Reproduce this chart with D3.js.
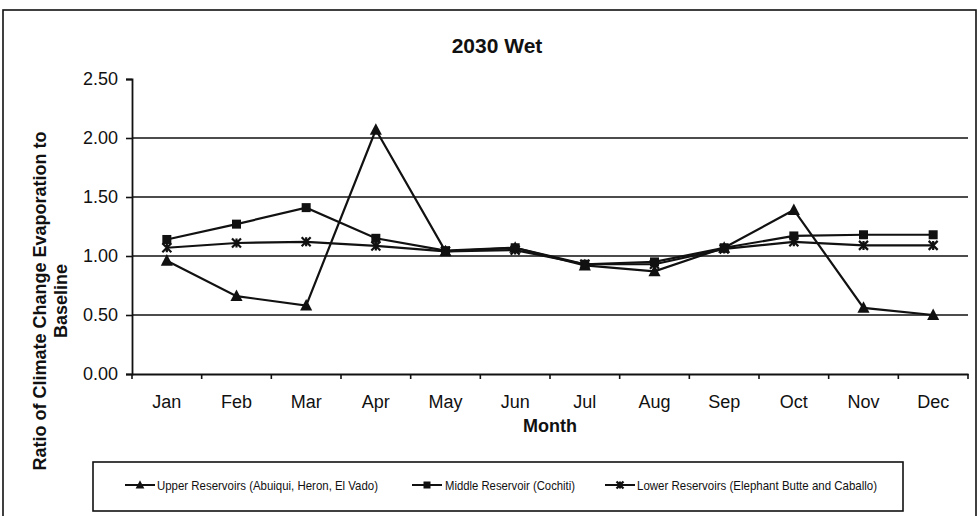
<!DOCTYPE html>
<html><head><meta charset="utf-8">
<script src="https://cdn.jsdelivr.net/npm/d3@7"></script>
<style>body{margin:0;background:#fff}svg{display:block}</style>
</head><body>
<svg id="c" width="977" height="516"></svg>
<script>
const months = ["Jan","Feb","Mar","Apr","May","Jun","Jul","Aug","Sep","Oct","Nov","Dec"];
const upper  = [0.96,0.66,0.58,2.07,1.04,1.07,0.92,0.87,1.07,1.39,0.56,0.50];
const middle = [1.14,1.27,1.41,1.15,1.045,1.07,0.93,0.95,1.07,1.17,1.18,1.18];
const lower  = [1.07,1.11,1.12,1.085,1.04,1.05,0.93,0.93,1.06,1.12,1.09,1.09];
const yTicks = [0,0.5,1.0,1.5,2.0,2.5];
const gridVals = [0.5,1.0,1.5,2.0];
const seriesNames = ["Upper  Reservoirs (Abuiqui, Heron, El Vado)","Middle Reservoir (Cochiti)","Lower Reservoirs (Elephant Butte and Caballo)"];
const title = "2030 Wet";
const xTitle = "Month";
const yTitle = ["Ratio of Climate Change Evaporation to","Baseline"];

const svg = d3.select("#c");
const FONT = "Liberation Sans, Arial, sans-serif";
const L = 132, R = 968, T = 79, B = 374;

svg.append("rect").attr("x",3).attr("y",10).attr("width",973).attr("height",512)
  .attr("fill","none").attr("stroke","#111").attr("stroke-width",1.6);

const x = d3.scaleBand().domain(months).range([L,R]);
const y = d3.scaleLinear().domain([0,2.5]).range([B,T]);

// gridlines
svg.append("g").selectAll("line").data(gridVals).join("line")
  .attr("x1",L).attr("x2",R).attr("y1",d=>y(d)).attr("y2",d=>y(d))
  .attr("stroke","#111").attr("stroke-width",1.6);

// axes
const yAxis = svg.append("g").attr("transform",`translate(${L},0)`)
  .call(d3.axisLeft(y).tickValues(yTicks).tickFormat(d3.format(".2f")).tickSize(6).tickPadding(8));
const xAxis = svg.append("g").attr("transform",`translate(0,${B})`)
  .call(d3.axisBottom(x).tickSize(0).tickPadding(21));
// x ticks at band boundaries
svg.append("g").selectAll("line").data(months.concat(["_end"])).join("line")
  .attr("x1",(d,i)=>L+i*x.step()).attr("x2",(d,i)=>L+i*x.step())
  .attr("y1",B).attr("y2",B+5).attr("stroke","#111").attr("stroke-width",1.6);
[yAxis,xAxis].forEach(g=>{
  g.selectAll("path.domain").attr("stroke","#111").attr("stroke-width",1.8);
  g.selectAll(".tick line").attr("stroke","#111").attr("stroke-width",1.6);
  g.selectAll("text").attr("font-family",FONT).attr("font-size",18).attr("fill","#111");
});

// titles
svg.append("text").attr("x",497).attr("y",53).attr("text-anchor","middle")
  .attr("font-family",FONT).attr("font-weight","bold").attr("font-size",21).attr("fill","#111").text(title);
svg.append("text").attr("x",550).attr("y",432).attr("text-anchor","middle")
  .attr("font-family",FONT).attr("font-weight","bold").attr("font-size",18).attr("fill","#111").text(xTitle);
const yt = svg.append("text").attr("transform","translate(46,301) rotate(-90)").attr("text-anchor","middle")
  .attr("font-family",FONT).attr("font-weight","bold").attr("font-size",18).attr("fill","#111");
yt.append("tspan").attr("x",0).attr("dy",0).text(yTitle[0]);
yt.append("tspan").attr("x",0).attr("dy",21).text(yTitle[1]);

// markers
function marker(g, type, cx, cy, s){
  if(type==="tri"){
    g.append("path").attr("d",`M${cx},${cy-s*0.6}L${cx+s*0.55},${cy+s*0.45}L${cx-s*0.55},${cy+s*0.45}Z`).attr("fill","#111");
  } else if(type==="sq"){
    g.append("rect").attr("x",cx-s/2).attr("y",cy-s/2).attr("width",s).attr("height",s).attr("fill","#111");
  } else {
    const h=s/2;
    g.append("path").attr("d",`M${cx-h},${cy-h}L${cx+h},${cy+h}M${cx-h},${cy+h}L${cx+h},${cy-h}M${cx},${cy-h}L${cx},${cy+h}`)
      .attr("stroke","#111").attr("stroke-width",2.2).attr("fill","none");
  }
}
const series = [{v:upper,m:"tri",s:11},{v:middle,m:"sq",s:9},{v:lower,m:"star",s:9}];
const line = d3.line().x((d,i)=>x(months[i])+x.bandwidth()/2).y(d=>y(d));
series.forEach(sr=>{
  svg.append("path").datum(sr.v).attr("d",line).attr("fill","none").attr("stroke","#111").attr("stroke-width",2.2);
  const g = svg.append("g");
  sr.v.forEach((d,i)=>marker(g,sr.m,x(months[i])+x.bandwidth()/2,y(d),sr.s));
});

// legend
svg.append("rect").attr("x",93).attr("y",462).attr("width",810).attr("height",49)
  .attr("fill","#fff").attr("stroke","#111").attr("stroke-width",1.6);
const legItems = [{x:125,tx:157,tw:221,m:"tri"},{x:412,tx:445,tw:130,m:"sq"},{x:605,tx:637,tw:240,m:"star"}];
legItems.forEach((it,i)=>{
  const g = svg.append("g");
  g.append("line").attr("x1",it.x).attr("x2",it.x+30).attr("y1",485).attr("y2",485).attr("stroke","#111").attr("stroke-width",2);
  marker(g,it.m,it.x+15,485,it.m==="tri"?8:7);
  g.append("text").attr("x",it.tx).attr("y",490).attr("font-family","Liberation Sans Narrow, Arial Narrow, "+FONT)
    .attr("font-size",13).attr("fill","#111").attr("textLength",it.tw).attr("lengthAdjust","spacingAndGlyphs").text(seriesNames[i]);
});
</script>
</body></html>
